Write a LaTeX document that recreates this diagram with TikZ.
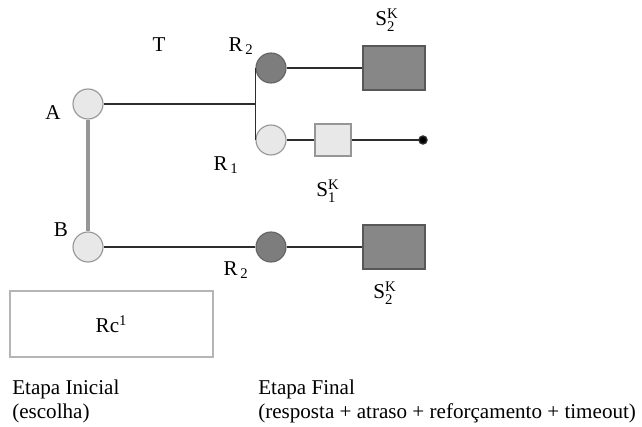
\documentclass[tikz,border=0pt]{standalone}
\usepackage{amsmath}
\usepackage{fontspec}
\setmainfont{Liberation Serif}
\usetikzlibrary{positioning}

\definecolor{lightfill}{RGB}{232,232,232}
\definecolor{rim}{RGB}{150,150,150}
\definecolor{darkfill}{RGB}{125,125,125}
\definecolor{boxfill}{RGB}{135,135,135}
\definecolor{wire}{RGB}{45,45,45}

\begin{document}
\begin{tikzpicture}[x=0.25mm, y=-0.25mm, font=\fontsize{15}{16.5}\selectfont,
  light/.style={circle, draw=rim, fill=lightfill, line width=0.8pt, minimum size=7.5mm, inner sep=0pt},
  darkdot/.style={circle, draw=darkfill!80!black, fill=darkfill, line width=0.8pt, minimum size=7.5mm, inner sep=0pt},
  bigbox/.style={draw=darkfill!70!black, fill=boxfill, line width=0.8pt, minimum width=15.5mm, minimum height=11mm, inner sep=0pt},
  smallbox/.style={draw=rim, fill=lightfill, line width=0.8pt, minimum width=9mm, minimum height=8mm, inner sep=0pt},
  wire/.style={draw=wire, line width=1pt}]
  \useasboundingbox (0,0) rectangle (642,427);
  % choice links
  \node [light] (A) at (88,104) {};
  \node [light] (B) at (88,247) {};
  \draw [rim, line width=2.5pt] (A) -- (B);
  \node at (53,113) {A};
  \node at (61,230) {B};
  \node at (159,45) {T};
  % upper branch
  \node [darkdot] (R2a) at (271,68) {};
  \node [light] (R1) at (271,140) {};
  \node [bigbox] (S2a) at (394,68) {};
  \node [smallbox] (S1) at (333,140) {};
  \coordinate (end) at (423,140);
  \draw [wire] (A) -- (A -| R1.west);
  \draw [wire] (R2a.west) -- (R1.west);
  \draw [wire] (R2a) -- (S2a);
  \draw [wire] (R1) -- (S1);
  \draw [wire] (S1) -- (end);
  \fill [wire] (end) circle [radius=4];
  \node at (241,46) {R$_{\,\text{2}}$};
  \node at (226,165) {R$_{\,\text{1}}$};
  \node at (387,20) {S$^{\text{K}}_{\text{2}}$};
  \node at (328,191) {S$^{\text{K}}_{\text{1}}$};
  % lower branch
  \node [darkdot] (R2b) at (271,247) {};
  \node [bigbox] (S2b) at (394,247) {};
  \draw [wire] (B) -- (R2b);
  \draw [wire] (R2b) -- (S2b);
  \node at (236,270) {R$_{\,\text{2}}$};
  \node at (385,293) {S$^{\text{K}}_{\text{2}}$};
  % reinforcer box
  \node [draw=rim!70, line width=0.8pt, minimum width=50.75mm, minimum height=16.5mm, inner sep=0pt] (rc) at (111.5,324) {Rc$^{\text{1}}$};
  % stages
  \node [anchor=north west, align=left, inner sep=0pt] (ini) at (12,380) {Etapa Inicial\\(escolha)};
  \node [anchor=north west, align=left, inner sep=0pt] (fin) at (258,380) {Etapa Final\\(resposta + atraso + reforçamento + timeout)};
\end{tikzpicture}
\end{document}
